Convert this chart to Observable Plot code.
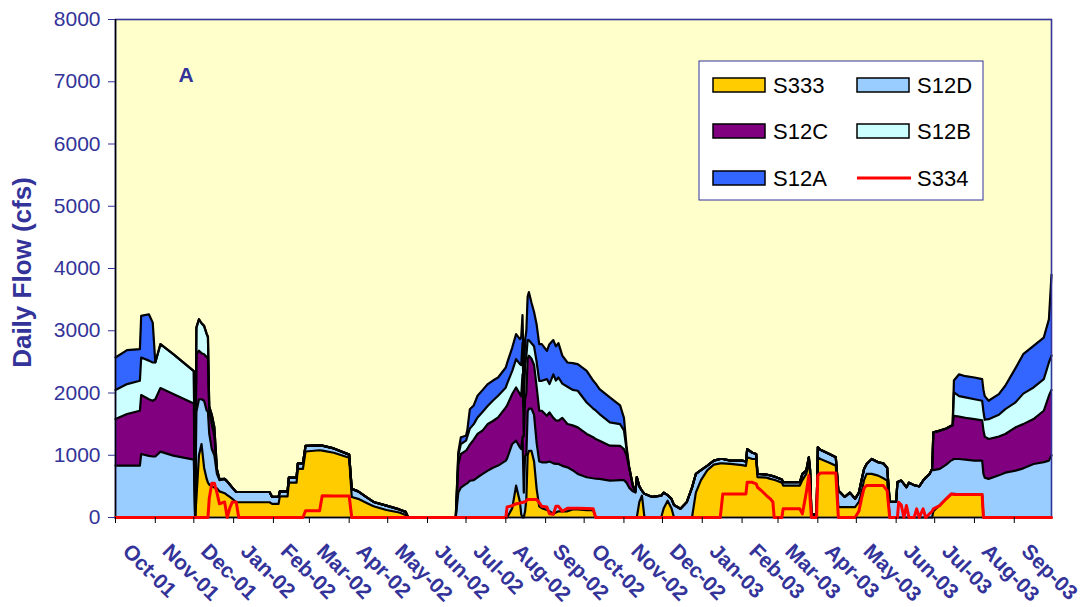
<!DOCTYPE html>
<html><head><meta charset="utf-8">
<script src="https://cdn.jsdelivr.net/npm/d3@7"></script>
<script src="https://cdn.jsdelivr.net/npm/@observablehq/plot@0.6"></script>
<style>
body{margin:0;background:#fff;}
#chart{position:relative;width:1088px;height:607px;overflow:hidden}
</style></head><body><div id="chart"></div>
<script>
// ---- data (daily flow, cfs) ----
const dates = [
"2001-10-01","2001-10-10","2001-10-20","2001-10-21","2001-10-27","2001-10-30","2001-11-01","2001-11-05","2001-11-15","2001-12-01",
"2001-12-02","2001-12-03","2001-12-05","2001-12-07","2001-12-09","2001-12-11","2001-12-12","2001-12-13","2001-12-15","2001-12-17",
"2001-12-19","2001-12-21","2001-12-25","2001-12-27","2001-12-29","2001-12-31","2002-01-03","2002-01-05","2002-01-29","2002-01-31",
"2002-02-05","2002-02-06","2002-02-12","2002-02-13","2002-02-19","2002-02-20","2002-02-24","2002-02-26","2002-03-09","2002-03-11",
"2002-03-20","2002-04-01","2002-04-03","2002-04-08","2002-04-15","2002-04-20","2002-04-30","2002-05-10","2002-05-15","2002-05-17",
"2002-06-23","2002-06-25","2002-06-27","2002-07-01","2002-07-02","2002-07-04","2002-07-07","2002-07-10","2002-07-14","2002-07-18",
"2002-07-22","2002-07-26","2002-08-01","2002-08-02","2002-08-06","2002-08-09","2002-08-12","2002-08-13","2002-08-14","2002-08-15",
"2002-08-16","2002-08-17","2002-08-18","2002-08-19","2002-08-21","2002-08-23","2002-08-25","2002-08-27","2002-08-29","2002-09-02",
"2002-09-04","2002-09-07","2002-09-09","2002-09-11","2002-09-14","2002-09-18","2002-09-22","2002-09-26","2002-10-03","2002-10-08",
"2002-10-10","2002-10-13","2002-10-21","2002-10-29","2002-11-01","2002-11-03","2002-11-05","2002-11-08","2002-11-10","2002-11-11",
"2002-11-13","2002-11-15","2002-11-17","2002-11-23","2002-11-30","2002-12-02","2002-12-05","2002-12-08","2002-12-10","2002-12-15",
"2002-12-20","2002-12-24","2002-12-27","2002-12-31","2003-01-05","2003-01-10","2003-01-15","2003-01-17","2003-01-23","2003-02-01",
"2003-02-04","2003-02-05","2003-02-09","2003-02-12","2003-02-13","2003-02-16","2003-02-20","2003-02-23","2003-02-25","2003-02-26",
"2003-03-04","2003-03-05","2003-03-18","2003-03-20","2003-03-23","2003-03-25","2003-03-26","2003-03-27","2003-03-31","2003-04-01",
"2003-04-03","2003-04-10","2003-04-15","2003-04-17","2003-04-22","2003-04-26","2003-04-30","2003-05-03","2003-05-05","2003-05-07",
"2003-05-09","2003-05-13","2003-05-18","2003-05-22","2003-05-25","2003-05-27","2003-06-01","2003-06-02","2003-06-03","2003-06-05",
"2003-06-07","2003-06-09","2003-06-11","2003-06-15","2003-06-17","2003-06-19","2003-06-22","2003-06-24","2003-06-27","2003-06-29",
"2003-06-30","2003-07-05","2003-07-10","2003-07-14","2003-07-15","2003-07-16","2003-07-20","2003-07-25","2003-08-01","2003-08-07",
"2003-08-08","2003-08-09","2003-08-12","2003-08-20","2003-08-25","2003-09-02","2003-09-08","2003-09-16","2003-09-24","2003-09-28","2003-09-30"
];
const s333 = [
0,0,0,0,0,0,0,0,0,0,
0,300,1000,1180,800,620,560,530,500,480,
470,420,390,360,330,300,245,245,245,219,
219,340,340,560,560,780,780,1060,1080,1075,
1040,960,330,300,230,180,120,80,40,0,
0,0,0,0,0,0,0,0,0,0,
0,0,0,0,150,513,250,50,0,0,
100,300,1000,1070,1070,900,460,180,150,120,
100,60,80,100,100,100,130,130,120,120,
0,0,0,0,0,0,0,0,0,0,
250,350,0,0,0,150,270,150,0,0,
0,0,400,600,760,850,870,870,860,840,
830,967,940,940,647,645,640,620,610,605,
560,513,513,600,700,900,700,0,0,967,
940,880,833,166,166,166,166,250,400,600,
700,700,673,630,593,0,0,0,0,0,
0,0,0,0,0,0,0,0,0,0,
100,200,300,379,379,379,370,370,370,370,
0,0,0,0,0,0,0,0,0,0,0
];
const s12d = [
834,834,834,1021,990,980,980,1058,994,930,
0,1400,900,720,1075,1100,1140,820,600,520,
230,180,230,220,200,180,165,165,165,111,
111,80,80,80,80,90,90,90,80,80,
70,50,130,120,90,70,70,50,50,0,
0,400,480,540,550,590,600,646,700,753,
800,834,914,950,1031,721,877,1050,1300,400,
900,700,700,680,680,750,740,720,737,767,
800,810,781,761,730,706,630,570,526,510,
625,620,593,600,600,560,480,420,400,650,
250,80,380,330,350,250,90,150,200,140,
250,480,300,160,73,64,70,70,54,74,
70,133,100,80,53,50,50,55,55,55,
50,53,53,100,53,67,60,50,50,160,
150,140,134,267,164,234,134,150,193,180,
160,240,214,240,207,250,250,566,580,593,
540,486,560,520,510,500,593,640,700,780,
660,580,550,541,545,561,570,560,544,544,
700,640,620,680,720,753,790,860,890,914,1000
];
const s12c = [
748,828,881,946,910,895,920,1021,989,900,
0,920,780,740,749,860,850,350,400,300,
60,10,0,0,0,0,0,0,0,0,
0,0,0,0,0,0,0,0,0,0,
0,0,0,0,0,0,0,0,0,0,
0,450,540,534,550,580,650,696,700,749,
750,774,854,850,802,855,856,850,1000,900,
900,1000,850,850,800,800,900,815,828,748,
788,730,699,694,770,696,720,748,696,660,
635,614,561,550,500,440,320,80,20,0,
0,0,0,0,0,0,0,0,0,0,
0,0,0,0,0,0,0,0,0,0,
0,0,0,0,0,0,0,0,0,0,
0,0,0,0,0,0,0,0,0,0,
0,0,0,0,0,0,0,0,0,0,
0,0,0,0,0,0,0,0,0,0,
0,0,0,0,0,0,0,0,0,0,
608,615,580,555,560,695,680,670,666,646,
700,660,641,620,621,695,710,722,825,1042,1050
];
const s12b = [
465,481,481,603,620,615,590,705,641,520,
0,430,505,480,454,370,350,80,150,150,
20,5,0,0,0,0,0,0,0,0,
0,0,0,0,0,0,0,0,0,0,
0,0,0,0,0,0,0,0,0,0,
0,150,160,160,200,260,250,266,300,293,
330,348,321,350,373,455,481,500,500,500,
550,600,300,250,250,300,400,481,481,588,
455,700,640,694,550,598,570,588,506,460,
460,428,374,350,300,100,20,10,0,0,
0,0,0,0,0,0,0,0,0,0,
0,0,0,0,0,0,0,0,0,0,
0,0,0,0,0,0,0,0,0,0,
0,0,0,0,0,0,0,0,0,0,
0,0,0,0,0,0,0,0,0,0,
0,0,0,0,0,0,0,0,0,0,
0,0,0,0,0,0,0,0,0,0,
0,0,0,0,0,374,330,329,320,315,
300,270,319,350,401,402,490,507,508,534,550
];
const s12a = [
523,545,508,668,745,640,0,0,0,0,
0,0,0,0,0,0,0,0,0,0,
0,0,0,0,0,0,0,0,0,0,
0,0,0,0,0,0,0,0,0,0,
0,0,0,0,0,0,0,0,0,0,
0,50,110,80,100,310,300,348,350,348,
320,293,320,330,374,401,401,450,450,400,
400,400,700,770,650,550,600,588,588,454,
641,550,550,551,450,390,430,428,508,450,
430,401,401,300,200,50,0,0,0,0,
0,0,0,0,0,0,0,0,0,0,
0,0,0,0,0,0,0,0,0,0,
0,0,0,0,0,0,0,0,0,0,
0,0,0,0,0,0,0,0,0,0,
0,0,0,0,0,0,0,0,0,0,
0,0,0,0,0,0,0,0,0,0,
0,0,0,0,0,0,0,0,0,0,
0,0,0,0,0,191,350,341,349,348,
350,380,295,332,374,550,633,668,668,694,1300
];
const s334 = [
0,0,0,0,0,0,0,0,0,0,
0,0,0,0,0,0,0,300,550,550,
400,220,250,0,150,250,250,0,0,0,
0,0,0,0,0,0,0,110,110,350,
345,345,0,0,0,0,0,0,0,0,
0,0,0,0,0,0,0,0,0,0,
0,0,0,170,190,220,230,240,240,250,
250,270,290,290,290,290,290,240,180,170,
60,50,180,180,100,150,150,150,145,140,
0,0,0,0,0,0,0,0,0,0,
0,0,0,0,0,0,0,0,0,0,
0,0,0,0,0,0,0,379,379,379,
379,566,566,540,486,433,353,300,250,0,
0,139,139,59,400,673,300,0,0,673,
716,716,716,0,0,0,0,100,300,470,
513,513,513,513,433,0,0,0,246,200,
0,192,0,0,139,0,139,0,60,100,
139,192,300,379,375,370,369,369,369,369,
0,0,0,0,0,0,0,0,0,0,0
];
const seriesNames = ["S333","S12D","S12C","S12B","S12A"];
const seriesColors = ["#FFCC00","#99CCFF","#800080","#CCFFFF","#3366FF"];
const yTicks = [0,1000,2000,3000,4000,5000,6000,7000,8000];
const monthLabels = ["Oct-01","Nov-01","Dec-01","Jan-02","Feb-02","Mar-02","Apr-02","May-02","Jun-02","Jul-02","Aug-02","Sep-02",
                     "Oct-02","Nov-02","Dec-02","Jan-03","Feb-03","Mar-03","Apr-03","May-03","Jun-03","Jul-03","Aug-03","Sep-03"];

// ---- build tables ----
const parse = d3.utcParse("%Y-%m-%d");
const X = dates.map(parse);
const seriesValues = [s333, s12d, s12c, s12b, s12a];
const long = [];
seriesNames.forEach((name, k) => X.forEach((d, i) => long.push({date: d, series: name, value: seriesValues[k][i]})));
const redRows = X.map((d, i) => ({date: d, value: s334[i]}));
const monthTicks = d3.utcMonth.range(parse("2001-10-01"), parse("2003-10-01"));
const tickRows = monthTicks.map((d, i) => ({date: d, label: monthLabels[i]}));

const font = "'Liberation Sans', Arial, Helvetica, sans-serif";
const navy = "#333399";

const chart = Plot.plot({
  width: 1088, height: 607,
  marginLeft: 115, marginRight: 37, marginTop: 19, marginBottom: 90,
  style: {fontFamily: font, background: "transparent", overflow: "visible"},
  x: {type: "utc", domain: [parse("2001-10-01"), parse("2003-09-30")], label: null},
  y: {domain: [0, 8000], label: null},
  color: {domain: seriesNames, range: seriesColors},
  marks: [
    Plot.frame({fill: "#FFFFCC"}),
    Plot.areaY(long, {x: "date", y: "value", fill: "series", order: seriesNames, curve: "linear"}),
    Plot.lineY(long, Plot.stackY2({x: "date", y: "value", z: "series", order: seriesNames, stroke: "#000", strokeWidth: 2.2})),
    Plot.frame({stroke: navy, strokeWidth: 1.6}),
    Plot.ruleX([parse("2001-10-01")], {stroke: "#000", strokeWidth: 1.5}),
    Plot.ruleY([0], {stroke: "#000", strokeWidth: 1.5}),
    Plot.lineY(redRows, {x: "date", y: "value", stroke: "#FF0000", strokeWidth: 3}),
    Plot.axisY({ticks: yTicks, tickSize: 7, tickPadding: 8, fontSize: 21, color: navy, tickFormat: d => String(d)}),
    Plot.axisX({ticks: monthTicks, tickSize: 6, tickFormat: () => "", color: "#000"}),
    Plot.text(tickRows, {x: "date", text: "label", frameAnchor: "bottom", rotate: 45, textAnchor: "start", lineAnchor: "bottom",
      dx: 6, dy: 35, fontSize: 21, fontWeight: "bold", fill: navy}),
    Plot.text(["Daily Flow (cfs)"], {frameAnchor: "left", rotate: -90, textAnchor: "middle", lineAnchor: "middle",
      dx: -93, dy: 4, fontSize: 26, fontWeight: "bold", fill: navy}),
    Plot.text(["A"], {frameAnchor: "top-left", textAnchor: "start", lineAnchor: "top", dx: 63, dy: 48, fontSize: 21, fontWeight: "bold", fill: navy})
  ]
});
document.getElementById("chart").appendChild(chart);

// ---- legend ----
const svg = d3.select(chart);
const lg = svg.append("g").attr("font-family", font).attr("font-size", 22).attr("text-anchor", "start");
lg.append("rect").attr("x", 699).attr("y", 61).attr("width", 284).attr("height", 139)
  .attr("fill", "#fff").attr("stroke", navy).attr("stroke-width", 1);
const legendItems = [
  {name: "S333", col: 0, row: 0, color: seriesColors[0]},
  {name: "S12D", col: 1, row: 0, color: seriesColors[1]},
  {name: "S12C", col: 0, row: 1, color: seriesColors[2]},
  {name: "S12B", col: 1, row: 1, color: seriesColors[3]},
  {name: "S12A", col: 0, row: 2, color: seriesColors[4]},
  {name: "S334", col: 1, row: 2, color: "#FF0000", line: true}
];
const colX = [713, 857], rowY = [85, 131, 178];
legendItems.forEach(it => {
  const x = colX[it.col], y = rowY[it.row];
  if (it.line) {
    lg.append("line").attr("x1", x).attr("x2", x + 54).attr("y1", y).attr("y2", y)
      .attr("stroke", it.color).attr("stroke-width", 3);
  } else {
    lg.append("rect").attr("x", x).attr("y", y - 7).attr("width", 52).attr("height", 14)
      .attr("fill", it.color).attr("stroke", "#000").attr("stroke-width", 1.5);
  }
  lg.append("text").attr("x", x + 60).attr("y", y + 8).attr("fill", "#000").attr("text-anchor", "start").text(it.name);
});
</script>
</body></html>
